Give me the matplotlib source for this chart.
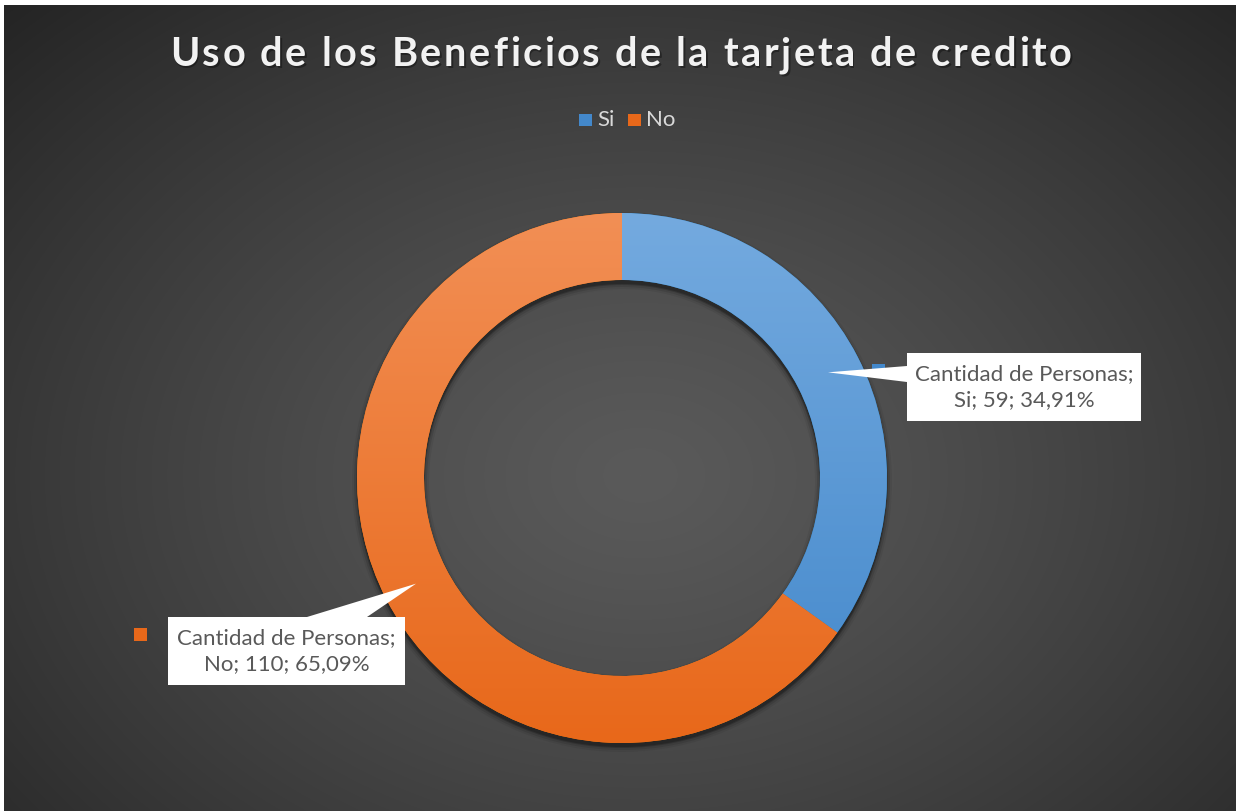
import numpy as np
import matplotlib.pyplot as plt
from matplotlib.patches import Wedge, Polygon, Rectangle
from matplotlib import font_manager, ft2font

# data
categories = ['Si', 'No']
counts = [59, 110]
percent_labels = ['34,91%', '65,09%']
series_name = 'Cantidad de Personas'
title = 'Uso de los Beneficios de la tarjeta de credito'

colors_top = ['#74aadf', '#f28f55']
colors_bottom = ['#4388cb', '#e8681a']

W, H = 1236, 811
fig = plt.figure(figsize=(12.36, 8.11), dpi=100, facecolor='white')
ax = fig.add_axes([0, 0, 1, 1])

# dark panel with radial gradient
yy, xx = np.mgrid[0:806, 4:W].astype(float)
cx_bg, cy_bg = 640, 470
d = np.sqrt(((xx - cx_bg) / 640) ** 2 + ((yy - cy_bg) / 470) ** 2) / np.sqrt(2)
val = (90 - 54 * np.clip(d, 0, 1) ** 1.25) / 255
ax.imshow(np.dstack([val, val, val]), extent=[4, W, 0, 806], origin='upper',
          interpolation='bilinear', zorder=0)

# donut
cx, cy = 622, H - 478
R, ring = 265, 67

# soft shadow under the ring
for k, a in [(5, 0.06), (3, 0.10), (1, 0.18), (0, 0.22)]:
    ax.add_patch(Wedge((cx, cy - 4), R + k, 0, 360, width=ring + 2 * k,
                       facecolor='black', edgecolor='none', alpha=a, zorder=1))

wedges, _ = ax.pie(counts, radius=R, center=(cx, cy), startangle=90,
                   counterclock=False, wedgeprops=dict(width=ring, edgecolor='none'),
                   frame=True)
grad = np.linspace(0, 1, 256).reshape(-1, 1)
for w, ct, cb in zip(wedges, colors_top, colors_bottom):
    w.set_zorder(2)
    c1 = np.array(plt.matplotlib.colors.to_rgb(ct))
    c2 = np.array(plt.matplotlib.colors.to_rgb(cb))
    img = c1[None, None, :] * (1 - grad[:, :, None]) + c2[None, None, :] * grad[:, :, None]
    im = ax.imshow(img, extent=[cx - R, cx + R, cy - R, cy + R], origin='upper',
                   aspect='auto', zorder=3)
    im.set_clip_path(w)

ax.set_xlim(0, W)
ax.set_ylim(0, H)
ax.set_aspect('equal')
ax.axis('off')

# title with letter spacing
title_size = 28.5
prop = font_manager.FontProperties(family='Lato', weight='bold', size=title_size)
ft = ft2font.FT2Font(font_manager.findfont(prop), hinting_factor=1)
ft.set_size(title_size, 100)
adv = [ft.load_char(ord(ch)).linearHoriAdvance / 65536 for ch in title]
target_w = 902
sp = (target_w - sum(adv)) / (len(title) - 1)
x = 621 - target_w / 2
base = H - 66
for ch, a in zip(title, adv):
    ax.text(x + 1.5, base - 2, ch, fontproperties=prop, color='black', alpha=0.35,
            ha='left', va='baseline', zorder=5)
    ax.text(x, base, ch, fontproperties=prop, color='#f2f2f2',
            ha='left', va='baseline', zorder=6)
    x += a + sp

# legend
leg_font = dict(family='Lato', size=16, color='#d9d9d9')
leg_x = [579, 628]
for lx, cat, ct, cb in zip(leg_x, categories, colors_top, colors_bottom):
    ax.add_patch(Rectangle((lx, H - 126), 12.5, 12.5, facecolor=cb, edgecolor='none', zorder=6))
    ax.text(lx + 18, H - 126, cat, ha='left', va='baseline', zorder=6, **leg_font)

# data labels with callouts
r_mid = R - ring / 2
boxes = [(907, 353, 234, 68), (168, 617, 237, 68)]     # x, top (screen), w, h
keys = [(872, 364), (134, 628)]
bases = [[(907, 366), (907, 382)], [(307, 617), (367, 617)]]
for w, cat, n, pct, box, key, bs, cb in zip(wedges, categories, counts, percent_labels,
                                            boxes, keys, bases, colors_bottom):
    ang = np.deg2rad((w.theta1 + w.theta2) / 2)
    tip = (cx + r_mid * np.cos(ang), cy + r_mid * np.sin(ang))
    ax.add_patch(Rectangle((key[0], H - key[1] - 13), 13, 13, facecolor=cb,
                           edgecolor='none', zorder=6))
    bx, by, bw, bh = box
    ax.add_patch(Polygon([tip, (bs[0][0], H - bs[0][1]), (bs[1][0], H - bs[1][1])],
                         closed=True, facecolor='white', edgecolor='none', zorder=7))
    ax.add_patch(Rectangle((bx, H - by - bh), bw, bh, facecolor='white',
                           edgecolor='none', zorder=7))
    ax.text(bx + bw / 2, H - by - bh / 2,
            f'{series_name};\n{cat}; {n}; {pct}', ha='center', va='center',
            family='Lato', fontsize=16, color='#595959', linespacing=1.4, zorder=8)

fig.savefig('out.png', dpi=100, facecolor='white')
